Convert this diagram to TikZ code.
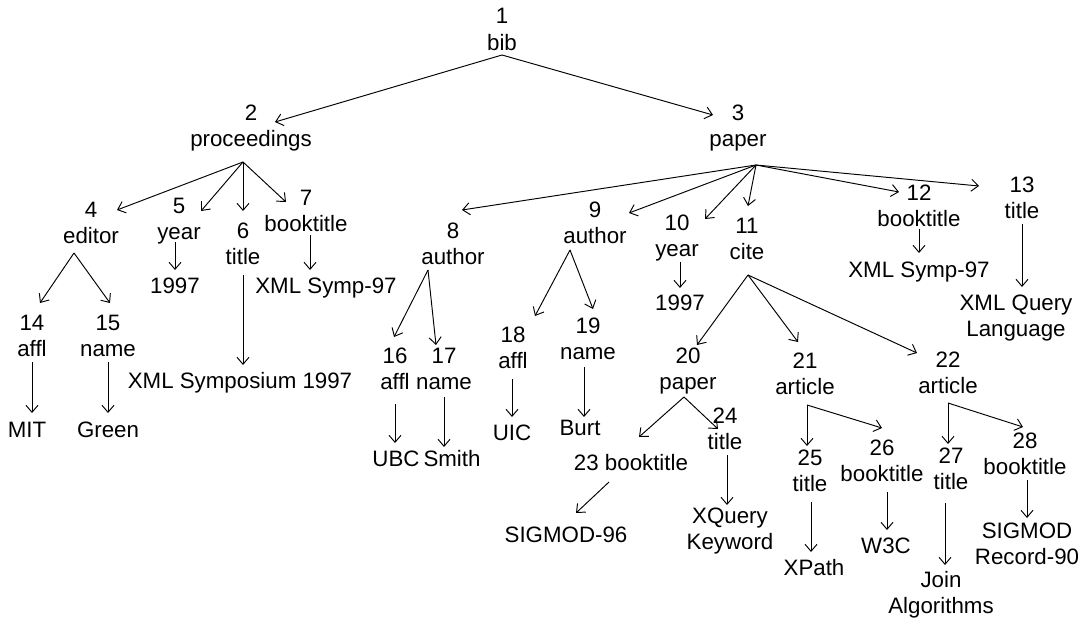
\documentclass[tikz,border=0pt]{standalone}
\usepackage{fontspec}
\setmainfont{Liberation Sans}
\usetikzlibrary{arrows.meta}
\newcommand{\twoln}[2]{\begin{tabular}[t]{@{}c@{}}#1\\#2\end{tabular}}
\newcommand{\conn}[6]{\draw[arr] ([shift={(#2,#3)}]#1.base) -- ([shift={(#5,#6)}]#4.base);}
\begin{document}
\begin{tikzpicture}[x=1pt,y=-1pt,
  lbl/.style={anchor=base,inner sep=0pt,font=\fontsize{22.3}{26.7}\selectfont},
  arr/.style={-{Straight Barb[length=7pt,width=12pt]},line width=0.95pt}]
\useasboundingbox[fill=white] (0,0) rectangle (1084,618);
% tree nodes
\node[lbl] (n1) at (502,24) {\twoln{1}{bib}};
\node[lbl] (n2) at (251,120) {\twoln{2}{proceedings}};
\node[lbl] (n3) at (738,120) {\twoln{3}{paper}};
\node[lbl] (n4) at (91,217) {\twoln{4}{editor}};
\node[lbl] (n5) at (179,213) {\twoln{5}{year}};
\node[lbl] (n6) at (243,238) {\twoln{6}{title}};
\node[lbl] (n7) at (306,205) {\twoln{7}{booktitle}};
\node[lbl] (n8) at (453,238) {\twoln{8}{author}};
\node[lbl] (n9) at (595,217) {\twoln{9}{author}};
\node[lbl] (n10) at (677,230) {\twoln{10}{year}};
\node[lbl] (n11) at (747,233) {\twoln{11}{cite}};
\node[lbl] (n12) at (919,200) {\twoln{12}{booktitle}};
\node[lbl] (n13) at (1022,192) {\twoln{13}{title}};
\node[lbl] (n14) at (32,330) {\twoln{14}{affl}};
\node[lbl] (n15) at (108,330) {\twoln{15}{name}};
\node[lbl] (n16) at (395,363) {\twoln{16}{affl}};
\node[lbl] (n17) at (444,363) {\twoln{17}{name}};
\node[lbl] (n18) at (513,342) {\twoln{18}{affl}};
\node[lbl] (n19) at (588,333) {\twoln{19}{name}};
\node[lbl] (n20) at (688,363) {\twoln{20}{paper}};
\node[lbl] (n21) at (805,368) {\twoln{21}{article}};
\node[lbl] (n22) at (948,367) {\twoln{22}{article}};
\node[lbl] (n23) at (631,470) {23 booktitle};
\node[lbl] (n24) at (725,423) {\twoln{24}{title}};
\node[lbl] (n25) at (810,465) {\twoln{25}{title}};
\node[lbl] (n26) at (882,455) {\twoln{26}{booktitle}};
\node[lbl] (n27) at (951,463) {\twoln{27}{title}};
\node[lbl] (n28) at (1025,448) {\twoln{28}{booktitle}};
% values
\node[lbl] (v5) at (175,293) {1997};
\node[lbl] (v6) at (240,388) {XML Symposium 1997};
\node[lbl] (v7) at (326,293) {XML Symp-97};
\node[lbl] (v10) at (680,310) {1997};
\node[lbl] (v12) at (919,277) {XML Symp-97};
\node[lbl] (v13) at (1016,310) {\twoln{XML Query}{Language}};
\node[lbl] (v14) at (27,437) {MIT};
\node[lbl] (v15) at (108,437) {Green};
\node[lbl] (v16) at (396,466) {UBC};
\node[lbl] (v17) at (452,466) {Smith};
\node[lbl] (v18) at (512,440) {UIC};
\node[lbl] (v19) at (580,435) {Burt};
\node[lbl] (v23) at (566,542) {SIGMOD-96};
\node[lbl] (v24) at (730,523) {\twoln{XQuery}{Keyword}};
\node[lbl] (v25) at (814,575) {XPath};
\node[lbl] (v26) at (886,553) {W3C};
\node[lbl] (v27) at (941,587) {\twoln{Join}{Algorithms}};
\node[lbl] (v28) at (1027,538) {\twoln{SIGMOD}{Record-90}};
% connectors
\conn{n1}{0}{31}{n2}{24}{2}
\conn{n1}{0}{31}{n3}{-25}{-5}
\conn{n2}{-8}{42}{n4}{26}{-7}
\conn{n2}{-8}{42}{n5}{22}{-2}
\conn{n2}{-8}{42}{n6}{0}{-27}
\conn{n2}{-8}{42}{n7}{-20}{-3}
\conn{n3}{18}{45}{n8}{9}{-28}
\conn{n3}{18}{45}{n9}{34}{-4}
\conn{n3}{18}{45}{n10}{28}{-11}
\conn{n3}{18}{45}{n11}{1}{-27}
\conn{n3}{18}{45}{n12}{-20}{-8}
\conn{n3}{18}{45}{n13}{-43}{-6}
\conn{n4}{-17}{36}{n14}{8}{-27}
\conn{n4}{-17}{36}{n15}{2}{-27}
\conn{n5}{-4}{29}{v5}{0}{-23}
\conn{n6}{0}{37}{v6}{3}{-23}
\conn{n7}{4}{30}{v7}{-16}{-23}
\conn{n8}{-25}{32}{n16}{-1}{-26}
\conn{n8}{-25}{32}{n17}{-8}{-18}
\conn{n9}{-25}{33}{n18}{22}{-26}
\conn{n9}{-25}{33}{n19}{5}{-24}
\conn{n10}{3}{32}{v10}{0}{-22}
\conn{n11}{1}{42}{n20}{9}{-18}
\conn{n11}{1}{42}{n21}{-7}{-26}
\conn{n11}{1}{42}{n22}{-31}{-14}
\conn{n12}{0}{29}{v12}{0}{-24}
\conn{n13}{0}{32}{v13}{6}{-23}
\conn{n14}{0}{32}{v14}{5}{-24}
\conn{n15}{0}{32}{v15}{0}{-24}
\conn{n16}{0}{41}{v16}{-1}{-23}
\conn{n17}{0}{34}{v17}{-8}{-19}
\conn{n18}{-1}{37}{v18}{0}{-23}
\conn{n19}{-4}{34}{v19}{4}{-18}
\conn{n20}{-4}{34}{n23}{8}{-33}
\conn{n20}{-4}{34}{n24}{-7}{6}
\conn{n21}{2}{37}{n25}{-3}{-19}
\conn{n21}{2}{37}{n26}{0}{-27}
\conn{n22}{0}{36}{n27}{-3}{-19}
\conn{n22}{0}{36}{n28}{-2}{-21}
\conn{n23}{-22}{12}{v23}{10}{-29}
\conn{n24}{2}{32}{v24}{-3}{-18}
\conn{n25}{1}{37}{v25}{-3}{-23}
\conn{n26}{5}{37}{v26}{1}{-23}
\conn{n27}{-6}{40}{v27}{4}{-22}
\conn{n28}{2}{32}{v28}{0}{-20}
\end{tikzpicture}
\end{document}
